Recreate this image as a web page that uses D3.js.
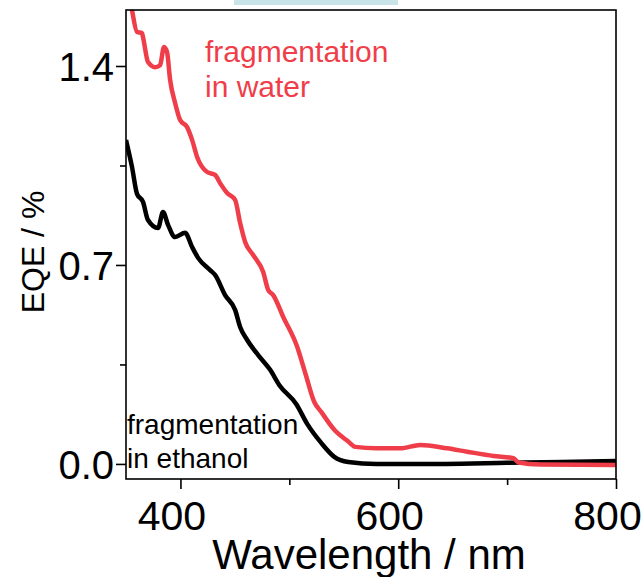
<!DOCTYPE html>
<html><head><meta charset="utf-8">
<script src="https://cdn.jsdelivr.net/npm/d3@7/dist/d3.min.js"></script>
<style>body{margin:0;background:#fff}svg{display:block}text{font-family:"Liberation Sans",Arial,sans-serif}</style>
</head><body>
<script>
const waterWl  = [350,355.5,360.1,364.7,365.6,370.2,376.7,381.3,384.9,387.7,390.5,395.1,399.7,406.1,410.7,415.3,424.5,431.8,436.4,442.9,450.2,454.8,459.4,466.8,476.0,480.6,485.2,494.4,507.2,514.6,522.9,529.3,541.3,554.1,560.6,579.9,602,620.3,644.9,663.3,687.5,705.9,710.5,730.7,800];
const waterEqe = [1.72,1.597,1.520,1.516,1.502,1.414,1.396,1.403,1.467,1.449,1.351,1.270,1.210,1.185,1.140,1.080,1.027,1.017,0.988,0.953,0.929,0.848,0.781,0.735,0.675,0.612,0.594,0.517,0.412,0.320,0.218,0.183,0.120,0.079,0.060,0.055,0.055,0.067,0.055,0.043,0.028,0.020,0.005,-0.002,-0.004];
const ethWl  = [350,355.5,360.1,365.6,370.2,379.4,384.0,388.6,395.1,404.3,410.7,416.2,427.2,431.8,441.0,450.2,454.8,461.3,471.4,482.4,490.7,506.3,516.4,529.3,541.3,554.1,579.9,643.3,700,750,800];
const ethEqe = [1.140,1.045,0.950,0.922,0.858,0.830,0.886,0.841,0.798,0.813,0.763,0.725,0.682,0.665,0.594,0.542,0.482,0.436,0.383,0.331,0.278,0.211,0.141,0.074,0.025,0.007,0.0,0.0,0.004,0.007,0.010];
const xTicks = [400,600,800];
const xMinor = [500,700];
const yTicks = [0.0,0.7,1.4];
const yMinor = [0.35,1.05];

const W=642,H=577;
const L=126,R=616,T=10,B=479;
const svg=d3.select("body").append("svg").attr("width",W).attr("height",H);
svg.append("rect").attr("x",234).attr("y",0).attr("width",164).attr("height",5).attr("fill","#c8e4e8");

const x=d3.scaleLinear().domain([350,800]).range([L,R]);
const y=d3.scaleLinear().domain([-0.053,1.597]).range([B,T]);

svg.append("defs").append("clipPath").attr("id","clip").append("rect")
  .attr("x",L).attr("y",T).attr("width",R-L).attr("height",B-T);

const line=d3.line().x(d=>x(d[0])).y(d=>y(d[1])).curve(d3.curveMonotoneX);
const g=svg.append("g").attr("clip-path","url(#clip)");
g.append("path").datum(ethWl.map((w,i)=>[w,ethEqe[i]])).attr("d",line)
  .attr("fill","none").attr("stroke","#000").attr("stroke-width",4.5).attr("stroke-linejoin","round");
g.append("path").datum(waterWl.map((w,i)=>[w,waterEqe[i]])).attr("d",line)
  .attr("fill","none").attr("stroke","#ef3e4a").attr("stroke-width",4.5).attr("stroke-linejoin","round");

// frame
svg.append("rect").attr("x",L).attr("y",T).attr("width",R-L).attr("height",B-T)
  .attr("fill","none").attr("stroke","#000").attr("stroke-width",1.6);

// axes
const xAxis=svg.append("g").attr("transform",`translate(0,${B})`)
  .call(d3.axisBottom(x).tickValues(xTicks).tickSize(10).tickFormat(d3.format("d")));
svg.append("g").attr("transform",`translate(0,${B})`)
  .call(d3.axisBottom(x).tickValues(xMinor).tickSize(6).tickFormat(""));
const yAxis=svg.append("g").attr("transform",`translate(${L},0)`)
  .call(d3.axisLeft(y).tickValues(yTicks).tickSize(10).tickFormat(d3.format(".1f")));
svg.append("g").attr("transform",`translate(${L},0)`)
  .call(d3.axisLeft(y).tickValues(yMinor).tickSize(6).tickFormat(""));
svg.selectAll(".domain").remove();
svg.selectAll(".tick line").attr("stroke","#000").attr("stroke-width",1.6);
xAxis.selectAll("text").attr("font-size",41).attr("fill","#000").attr("y",51).attr("dy",0)
  .attr("dx",-9)
  .attr("font-family","Liberation Sans, Arial, sans-serif");
yAxis.selectAll("text").attr("font-size",40).attr("fill","#000").attr("x",-12).attr("dy","0.36em")
  .attr("font-family","Liberation Sans, Arial, sans-serif");

svg.append("text").attr("x",369).attr("y",569).attr("text-anchor","middle")
  .attr("font-size",42).text("Wavelength / nm");
svg.append("text").attr("transform","translate(44,252) rotate(-90)").attr("text-anchor","middle")
  .attr("font-size",32).text("EQE / %");

svg.append("text").attr("x",205).attr("y",62).attr("font-size",30).attr("fill","#ef3e4a").text("fragmentation");
svg.append("text").attr("x",205).attr("y",97).attr("font-size",30).attr("fill","#ef3e4a").text("in water");
svg.append("text").attr("x",127).attr("y",434).attr("font-size",28).attr("fill","#000").text("fragmentation");
svg.append("text").attr("x",127).attr("y",468).attr("font-size",28).attr("fill","#000").text("in ethanol");
</script>
</body></html>
